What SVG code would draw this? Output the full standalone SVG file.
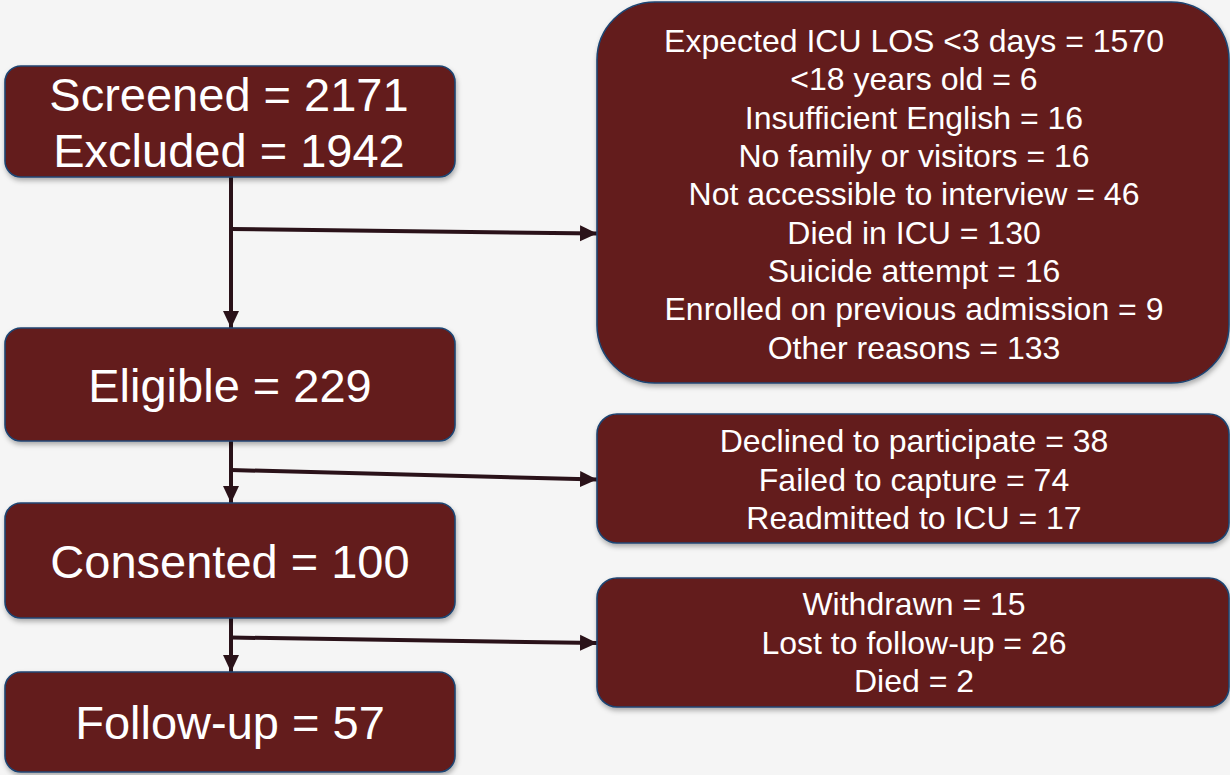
<svg xmlns="http://www.w3.org/2000/svg" width="1230" height="775" viewBox="0 0 1230 775">
<defs>
<style>
.box{fill:#641a1a;stroke:#1f4572;stroke-width:1.6;filter:url(#sh)}
.t{font-family:"Liberation Sans",Arial,sans-serif;fill:#ffffff;text-anchor:middle}
.big{font-size:47px}
.sm{font-size:32px}
.c{fill:none;stroke:#2a1219;stroke-width:4}
</style>
<filter id="sh" x="-5%" y="-5%" width="110%" height="115%">
<feDropShadow dx="1" dy="3" stdDeviation="2.5" flood-color="#000" flood-opacity="0.3"/>
</filter>
<marker id="ah" markerUnits="userSpaceOnUse" markerWidth="18" markerHeight="18" viewBox="0 0 18 18" refX="17" refY="9" orient="auto">
<path d="M0,1 L17,9 L0,17 Z" fill="#2a1219"/>
</marker>
</defs>
<rect width="1230" height="775" fill="#f5f5f5"/>
<g id="connectors">
<line class="c" x1="231" y1="177" x2="231" y2="328" marker-end="url(#ah)"/>
<line class="c" x1="231" y1="229" x2="597" y2="233.5" marker-end="url(#ah)"/>
<line class="c" x1="231" y1="441" x2="231" y2="503" marker-end="url(#ah)"/>
<line class="c" x1="231" y1="470" x2="597" y2="479.5" marker-end="url(#ah)"/>
<line class="c" x1="231" y1="618" x2="231" y2="672" marker-end="url(#ah)"/>
<line class="c" x1="231" y1="637.5" x2="597" y2="643" marker-end="url(#ah)"/>
</g>
<g id="screened">
<rect class="box" x="5" y="66" width="450" height="111" rx="16"/>
<text class="t big" x="229" y="111">Screened = 2171</text>
<text class="t big" x="229" y="167">Excluded = 1942</text>
</g>
<g id="eligible">
<rect class="box" x="5" y="328" width="450" height="113" rx="16"/>
<text class="t big" x="230" y="402">Eligible = 229</text>
</g>
<g id="consented">
<rect class="box" x="5" y="503" width="450" height="115" rx="16"/>
<text class="t big" x="230" y="578">Consented = 100</text>
</g>
<g id="followup">
<rect class="box" x="5" y="672" width="450" height="100" rx="16"/>
<text class="t big" x="230" y="739">Follow-up = 57</text>
</g>
<g id="exclusions">
<rect class="box" x="597" y="2" width="632" height="381" rx="58"/>
<text class="t sm" x="914" y="52">Expected ICU LOS &lt;3 days = 1570</text>
<text class="t sm" x="914" y="90">&lt;18 years old = 6</text>
<text class="t sm" x="914" y="128.5">Insufficient English = 16</text>
<text class="t sm" x="914" y="167">No family or visitors = 16</text>
<text class="t sm" x="914" y="205">Not accessible to interview = 46</text>
<text class="t sm" x="914" y="243.5">Died in ICU = 130</text>
<text class="t sm" x="914" y="282">Suicide attempt = 16</text>
<text class="t sm" x="914" y="320">Enrolled on previous admission = 9</text>
<text class="t sm" x="914" y="358.5">Other reasons = 133</text>
</g>
<g id="not-consented">
<rect class="box" x="597" y="414" width="632" height="129" rx="20"/>
<text class="t sm" x="914" y="452">Declined to participate = 38</text>
<text class="t sm" x="914" y="490.5">Failed to capture = 74</text>
<text class="t sm" x="914" y="529">Readmitted to ICU = 17</text>
</g>
<g id="lost">
<rect class="box" x="597" y="578" width="632" height="129" rx="20"/>
<text class="t sm" x="914" y="615">Withdrawn = 15</text>
<text class="t sm" x="914" y="653.5">Lost to follow-up = 26</text>
<text class="t sm" x="914" y="692">Died = 2</text>
</g>
</svg>
